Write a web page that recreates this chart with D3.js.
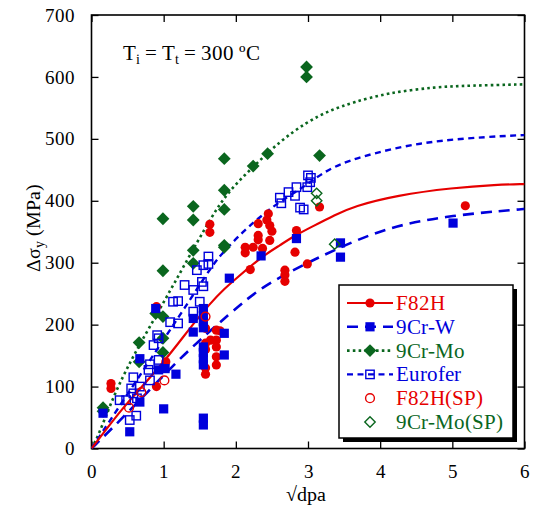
<!DOCTYPE html>
<html><head><meta charset="utf-8">
<script src="https://cdn.jsdelivr.net/npm/d3@7"></script>
<style>
@font-face{font-family:"PlotSerif";src:local("Liberation Serif"),local("LiberationSerif"),local("Liberation Serif Regular"),local("LiberationSerif-Regular");}
body{margin:0;background:#fff}
svg text, svg tspan{font-family:"PlotSerif" !important}
</style>
</head><body>
<svg id="chart" width="534" height="506" font-family="PlotSerif"></svg>
<script>
// Axis ticks
const xTicks = [0, 1, 2, 3, 4, 5, 6];
const yTicks = [0, 100, 200, 300, 400, 500, 600, 700];

// Measured hardening data: [sqrt(dpa), delta sigma_y (MPa)]
const f82h = [[0.27,105],[0.27,97],[0.9,229],[0.9,100],[1.03,140],[1.58,194],[1.58,170],[1.58,160],[1.58,130],[1.58,120],
  [1.65,175],[1.73,191],[1.73,175],[1.73,164],[1.73,148],[1.73,135],[1.78,190],[1.64,362],[1.64,349],[2.13,325],[2.13,316],
  [2.2,289],[2.24,325],[2.31,363],[2.31,344],[2.31,337],[2.37,323],[2.43,369],[2.45,379],[2.47,360],[2.47,336],[2.5,351],
  [2.68,288],[2.68,280],[2.68,270],[2.82,317],[2.84,352],[2.99,298],[3.16,390],[5.18,392]];
const cr9w = [[0.16,57],[0.53,27],[0.67,145],[0.67,75],[0.89,226],[0.93,127],[1.0,64],[1.02,129],[1.17,120],[1.41,210],
  [1.41,188],[1.55,226],[1.55,215],[1.55,205],[1.55,195],[1.55,164],[1.55,155],[1.55,145],[1.55,135],[1.55,49],[1.55,38],
  [1.84,186],[1.84,151],[1.91,275],[2.35,311],[2.84,339],[3.45,332],[3.45,309],[5.01,364]];
const cr9mo = [[0.16,66],[0.16,60],[0.66,171],[0.66,140],[0.89,218],[0.99,213],[0.99,371],[0.99,287],[0.99,178],[0.99,155],
  [1.41,391],[1.41,369],[1.41,320],[1.41,299],[1.84,468],[1.84,417],[1.84,386],[1.84,328],[1.84,325],[2.24,456],[2.44,476],
  [2.98,616],[2.98,600],[3.16,473]];
const eurofer = [[0.39,78],[0.48,78],[0.53,46],[0.55,97],[0.58,115],[0.58,89],[0.62,53],[0.63,81],[0.67,100],[0.79,127],
  [0.81,110],[0.81,136],[0.86,167],[0.91,183],[0.93,178],[0.93,143],[1.09,204],[1.13,237],[1.2,202],[1.2,238],[1.29,264],
  [1.41,256],[1.41,221],[1.46,288],[1.5,237],[1.53,269],[1.55,262],[1.55,296],[1.62,310],[1.62,298],[2.61,405],[2.63,396],
  [2.73,414],[2.82,408],[2.84,422],[2.89,389],[2.94,386],[2.99,422],[3.0,441],[3.03,430],[3.04,437]];
const f82hSP = [[0.52,66],[0.69,91],[1.01,110],[1.58,213]];
const cr9moSP = [[3.12,412],[3.12,400],[3.37,330]];

// Trend curves
const f82hFit = [[0,0],[0.2,30],[0.44,67],[0.99,137],[1.36,194],[1.64,234],[1.85,259],[2.01,275],[2.36,310],[2.61,328],
  [2.82,344],[3.07,359],[3.37,377],[3.63,391],[4.23,409],[5.01,421],[5.61,426],[6.0,427]];
const cr9wFit = [[0,0],[0.3,34],[0.76,89],[1.32,157],[1.92,218],[2.35,261],[2.98,299],[3.3,317],[4.09,358],[5.01,377],
  [5.93,386],[6.0,387]];
const cr9moFit = [[0,0],[0.09,19],[0.32,89],[0.55,143],[0.78,191],[1.13,263],[1.6,362],[1.87,412],[2.24,455],[2.61,496],
  [2.98,527],[3.3,546],[3.63,559],[4.09,574],[4.78,584],[5.24,586],[6.0,588]];
const euroferFit = [[0,0],[0.5,88],[1.0,176],[1.27,223],[1.69,299],[1.85,320],[2.13,354],[2.38,378],[2.61,399],[2.98,425],
  [3.17,443],[3.53,465],[4.32,489],[5.01,500],[5.93,506],[6.0,506]];

const RED = "#e60000", BLUE = "#0000dc", GREEN = "#0a661e";
const SERIF = "PlotSerif";

const svg = d3.select("#chart");
const L = 91.5, R = 524.5, T = 15, B = 448.5;
const x = d3.scaleLinear().domain([0, 6]).range([L, R]);
const y = d3.scaleLinear().domain([0, 700]).range([B, T]);

svg.append("clipPath").attr("id", "plotclip")
  .append("rect").attr("x", L).attr("y", T).attr("width", R - L).attr("height", B - T);

// Axes with inward ticks on all four sides
const tickLen = 7;
svg.append("g").attr("transform", `translate(0,${B})`)
  .call(d3.axisBottom(x).tickValues(xTicks).tickSize(-tickLen).tickPadding(16).tickFormat(d3.format("d")))
  .call(g => g.select(".domain").remove());
svg.append("g").attr("transform", `translate(0,${T})`)
  .call(d3.axisTop(x).tickValues(xTicks).tickSize(-tickLen).tickFormat(""))
  .call(g => g.select(".domain").remove());
svg.append("g").attr("transform", `translate(${L},0)`)
  .call(d3.axisLeft(y).tickValues(yTicks).tickSize(-tickLen).tickPadding(17).tickFormat(d3.format("d")))
  .call(g => g.select(".domain").remove());
svg.append("g").attr("transform", `translate(${R},0)`)
  .call(d3.axisRight(y).tickValues(yTicks).tickSize(-tickLen).tickFormat(""))
  .call(g => g.select(".domain").remove());
svg.selectAll("g").attr("font-family", SERIF);
svg.selectAll(".tick line").attr("stroke", "#000").attr("stroke-width", 1.3);
svg.selectAll(".tick text").attr("fill", "#000").attr("font-family", SERIF).attr("font-size", 19);

svg.append("rect").attr("x", L).attr("y", T).attr("width", R - L).attr("height", B - T)
  .attr("fill", "none").attr("stroke", "#000").attr("stroke-width", 1.6);

// Curves
const line = d3.line().x(d => x(d[0])).y(d => y(d[1])).curve(d3.curveBasis);
const plot = svg.append("g").attr("clip-path", "url(#plotclip)");
const curves = [
  {data: cr9moFit, color: GREEN, dash: "2.6,3.2", w: 2.6},
  {data: euroferFit, color: BLUE, dash: "6,4.5", w: 2.4},
  {data: cr9wFit, color: BLUE, dash: "11,7", w: 2.6},
  {data: f82hFit, color: RED, dash: null, w: 2.2}
];
curves.forEach(c => {
  plot.append("path").datum(c.data).attr("d", line).attr("fill", "none")
    .attr("stroke", c.color).attr("stroke-width", c.w)
    .attr("stroke-dasharray", c.dash);
});

// Marker shapes
const diamond = (g, cx, cy, r) => g.append("path")
  .attr("d", `M${cx},${cy - r}L${cx + r},${cy}L${cx},${cy + r}L${cx - r},${cy}Z`);
function marker(g, type, cx, cy) {
  if (type === "dot") g.append("circle").attr("cx", cx).attr("cy", cy).attr("r", 4.6).attr("fill", RED);
  if (type === "sq") g.append("rect").attr("x", cx - 4.6).attr("y", cy - 4.6).attr("width", 9.2).attr("height", 9.2).attr("fill", BLUE);
  if (type === "dia") diamond(g, cx, cy, 6.4).attr("fill", GREEN);
  if (type === "osq") g.append("rect").attr("x", cx - 4.2).attr("y", cy - 4.2).attr("width", 8.4).attr("height", 8.4)
    .attr("fill", "none").attr("stroke", BLUE).attr("stroke-width", 1.4);
  if (type === "ocirc") g.append("circle").attr("cx", cx).attr("cy", cy).attr("r", 4.4)
    .attr("fill", "none").attr("stroke", RED).attr("stroke-width", 1.4);
  if (type === "odia") diamond(g, cx, cy, 5.2).attr("fill", "none").attr("stroke", GREEN).attr("stroke-width", 1.4);
}
const pts = svg.append("g");
[[cr9mo, "dia"], [f82h, "dot"], [cr9w, "sq"], [eurofer, "osq"], [f82hSP, "ocirc"], [cr9moSP, "odia"]]
  .forEach(([data, type]) => data.forEach(d => marker(pts, type, x(d[0]), y(d[1]))));

// Legend
const lg = svg.append("g");
const lx = 339, ly = 285, lw = 174, lh = 153;
lg.append("rect").attr("x", lx + 4).attr("y", ly + 4).attr("width", lw).attr("height", lh).attr("fill", "#000");
lg.append("rect").attr("x", lx).attr("y", ly).attr("width", lw).attr("height", lh)
  .attr("fill", "#fff").attr("stroke", "#000").attr("stroke-width", 1.5);
const legendItems = [
  {name: "F82H", color: RED, dash: null, w: 2.2, m: "dot"},
  {name: "9Cr-W", color: BLUE, dash: "11,7", w: 2.6, m: "sq"},
  {name: "9Cr-Mo", color: GREEN, dash: "2.6,3.2", w: 2.6, m: "dia"},
  {name: "Eurofer", color: BLUE, dash: "6,4.5", w: 2.4, m: "osq"},
  {name: "F82H(SP)", color: RED, dash: "none", m: "ocirc"},
  {name: "9Cr-Mo(SP)", color: GREEN, dash: "none", m: "odia"}
];
legendItems.forEach((it, i) => {
  const cy = 303 + i * 23.8;
  if (it.dash !== "none") {
    lg.append("line").attr("x1", 347).attr("x2", 393).attr("y1", cy).attr("y2", cy)
      .attr("stroke", it.color).attr("stroke-width", it.w).attr("stroke-dasharray", it.dash);
  }
  marker(lg, it.m, 370, cy);
  lg.append("text").attr("x", 396).attr("y", cy + 7).attr("fill", it.color)
    .attr("font-family", SERIF).attr("font-size", 21).text(it.name);
});

// Condition note
const note = svg.append("text").attr("x", 123).attr("y", 60).attr("fill", "#000")
  .attr("font-family", SERIF).attr("font-size", 21);
note.append("tspan").text("T");
note.append("tspan").attr("baseline-shift", "-30%").attr("font-size", 14).text("i");
note.append("tspan").text(" = T");
note.append("tspan").attr("baseline-shift", "-30%").attr("font-size", 14).text("t");
note.append("tspan").text(" = 300 ºC");

// Axis titles
svg.append("text").attr("x", 306).attr("y", 501).attr("text-anchor", "middle")
  .attr("fill", "#000").attr("font-family", SERIF).attr("font-size", 20).text("√dpa");
const yl = svg.append("text").attr("transform", "translate(40,228) rotate(-90)").attr("text-anchor", "middle")
  .attr("fill", "#000").attr("font-family", SERIF).attr("font-size", 20);
yl.append("tspan").text("Δσ");
yl.append("tspan").attr("baseline-shift", "-30%").attr("font-size", 14).text("y");
yl.append("tspan").text(" (MPa)");
</script>
</body></html>
